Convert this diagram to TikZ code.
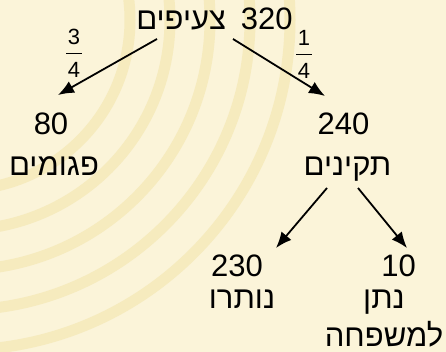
\documentclass[tikz,border=0pt]{standalone}
\usepackage{fontspec}
\setmainfont{Liberation Sans}
\newfontfamily\hebfont[Script=Hebrew]{Liberation Sans}
\TeXXeTstate=1
\usetikzlibrary{arrows.meta}
\definecolor{bgcream}{RGB}{251,244,217}
\definecolor{bandyellow}{RGB}{246,235,190}
\newcommand{\heb}[1]{{\hebfont\beginR #1\endR}}
\newcommand{\fracxt}[2]{\begin{tabular}[t]{@{}c@{}}#1\\[-17pt]\rule{16pt}{0.8pt}\\[-2pt]#2\end{tabular}}

\begin{document}
\begin{tikzpicture}[
    x=1pt, y=-1pt,
    num/.style={anchor=base, inner sep=0pt, font=\fontsize{31}{37}\selectfont},
    word/.style={anchor=base, inner sep=0pt, font=\fontsize{31}{37}\selectfont},
    frac/.style={anchor=base, inner sep=0pt, font=\fontsize{22}{26}\selectfont},
    arrow/.style={-{Latex[length=16pt,width=13pt]}, line width=1.8pt}
]
    % Background
    \useasboundingbox (0,0) rectangle (446,352);
    \fill[bgcream] (0,0) rectangle (446,352);
    \begin{scope}
        \clip (0,0) rectangle (446,352);
        \foreach \r in {170,210,...,330}
            \draw[bandyellow, line width=11pt] (-40,20) circle[radius=\r pt];
    \end{scope}

    % Root
    \node[word] (scarves) at (214.5,29.5) {\heb{צעיפים}\hspace{15pt}320};

    % Fractions
    \node[frac] (fracl) at (74,45) {\fracxt{3}{4}};
    \node[frac] (fracr) at (304,46) {\fracxt{1}{4}};

    % First split
    \node[num] (n80) at (51,135) {80};
    \node[word] (faulty) at (54,176) {\heb{פגומים}};
    \node[num] (n240) at (343.5,135) {240};
    \node[word] (proper) at (347.5,176) {\heb{תקינים}};

    % Second split
    \node[num] (n230) at (237,276) {230};
    \node[word] (kept) at (242,308) {\heb{נותרו}};
    \node[num] (n10) at (398.5,276) {10};
    \node[word] (gave) at (384,308) {\heb{נתן}};
    \node[word] (family) at (384,346) {\heb{למשפחה}};

    % Arrows
    \draw[arrow] ([xshift=-57.5pt,yshift=-9.5pt]scarves.base) -- ([xshift=7pt,yshift=40pt]n80.base);
    \draw[arrow] ([xshift=18.5pt,yshift=-9.5pt]scarves.base) -- ([xshift=-18.5pt,yshift=39pt]n240.base);
    \draw[arrow] ([xshift=-20.5pt,yshift=-12pt]proper.base) -- ([xshift=39pt,yshift=28pt]n230.base);
    \draw[arrow] ([xshift=10.5pt,yshift=-12pt]proper.base) -- ([xshift=8.5pt,yshift=28pt]n10.base);
\end{tikzpicture}
\end{document}
